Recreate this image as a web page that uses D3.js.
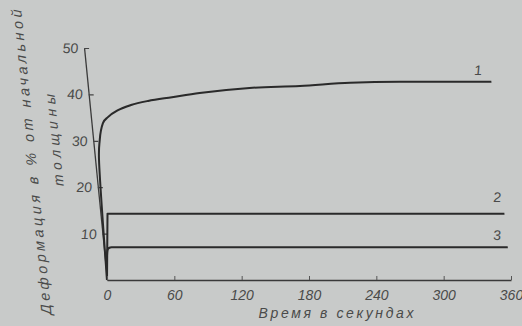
<!DOCTYPE html>
<html><head><meta charset="utf-8">
<script src="https://cdn.jsdelivr.net/npm/d3@7"></script>
<style>
html,body{margin:0;padding:0;background:#c8cac9;}
svg{display:block;}
text{font-family:"Liberation Sans","DejaVu Sans",sans-serif;font-style:italic;fill:#4a4a4a;}
</style></head>
<body>
<svg id="chart" width="522" height="326"></svg>
<script>
// ---- data ----
const timeTicks = [0, 60, 120, 180, 240, 300, 360];
const valueTicks = [10, 20, 30, 40, 50];
const seriesNames = ["1", "2", "3"];
const times1 = [0, 3.5, 5.9, 10.2, 15.2, 24.8, 36.8, 52.4, 74, 99, 144, 189, 234, 278, 360];
const vals1  = [0, 26, 30.2, 33.8, 35.1, 36.6, 37.7, 38.6, 39.4, 40.3, 41.4, 41.8, 42.5, 42.7, 42.7];
const times2 = [0, 6.3, 360];
const vals2  = [0, 14.3, 14.3];
const times3 = [0, 3, 4.5, 7, 360];
const vals3  = [0, 6.4, 6.9, 7.05, 7.05];
const xTitle = "Время в секундах";
const yTitle1 = "Деформация в % от начальной";
const yTitle2 = "толщины";

// ---- layout ----
const margin = {left: 107, top: 48};
const W = 404, H = 232;
const skew = 5.65; // scan is sheared: axis leans left toward the top

const svg = d3.select("#chart");
svg.append("rect").attr("width", 522).attr("height", 326).attr("fill", "#c8cac9");

const x = d3.scaleLinear().domain([0, 360]).range([0, W]);
const y = d3.scaleLinear().domain([0, 50]).range([H, 0]);

const root = svg.append("g").attr("transform", `translate(${margin.left},${margin.top})`);
const g = root.append("g").attr("transform", `translate(0,${H}) skewX(${skew}) translate(0,${-H})`);

// x axis (unsheared at the baseline)
const xAxis = root.append("g").attr("transform", `translate(0,${H})`)
  .call(d3.axisBottom(x).tickValues(timeTicks).tickSizeInner(-4).tickSizeOuter(0).tickPadding(10));
xAxis.select(".domain").attr("stroke", "#3a3a3a").attr("stroke-width", 1.6);
xAxis.selectAll(".tick line").attr("stroke", "#555").attr("stroke-width", 1);
xAxis.selectAll(".tick text").attr("font-size", 14).attr("fill", "#4a4a4a")
  .style("font-family", '"Liberation Sans",sans-serif').style("font-style", "italic");

root.append("text").attr("x", 229).attr("y", 270).attr("text-anchor", "middle")
  .attr("font-size", 14).attr("textLength", 155).attr("lengthAdjust", "spacing").text(xTitle);

// y axis (sheared)
const yAxis = g.append("g")
  .call(d3.axisLeft(y).tickValues(valueTicks).tickSizeInner(-5).tickSizeOuter(0).tickPadding(6));
yAxis.select(".domain").attr("stroke", "#3a3a3a").attr("stroke-width", 1.3);
yAxis.selectAll(".tick line").attr("stroke", "#444").attr("stroke-width", 1.2);
yAxis.selectAll(".tick text").attr("font-size", 14).attr("fill", "#4a4a4a")
  .style("font-family", '"Liberation Sans",sans-serif').style("font-style", "italic");

g.append("text").attr("transform", "translate(-59,114) rotate(-90)").attr("text-anchor", "middle")
  .attr("font-size", 14.5).attr("fill", "#444").attr("textLength", 305).attr("lengthAdjust", "spacing").text(yTitle1);
g.append("text").attr("transform", "translate(-34,92) rotate(-90)").attr("text-anchor", "middle")
  .attr("font-size", 14).attr("fill", "#444").attr("textLength", 92).attr("lengthAdjust", "spacing").text(yTitle2);

// curves
const series = [
  {name: seriesNames[0], t: times1, v: vals1, curve: d3.curveMonotoneX, lx: 349, ly: 2.6},
  {name: seriesNames[1], t: times2, v: vals2, curve: d3.curveLinear, lx: 355, ly: 3.6},
  {name: seriesNames[2], t: times3, v: vals3, curve: d3.curveMonotoneX, lx: 351.5, ly: 2.7}
];
series.forEach(s => {
  const pts = s.t.map((t, i) => [t, s.v[i]]);
  const line = d3.line().x(d => x(d[0])).y(d => y(d[1])).curve(s.curve);
  g.append("path").attr("d", line(pts)).attr("fill", "none")
    .attr("stroke", "#2a2a2a").attr("stroke-width", 2).attr("stroke-linejoin", "round");
  const last = s.v[s.v.length - 1];
  g.append("text").attr("x", x(s.lx)).attr("y", y(last + s.ly) + 5)
    .attr("text-anchor", "middle").attr("font-size", 14).attr("fill", "#555").text(s.name);
});
</script>
</body></html>
